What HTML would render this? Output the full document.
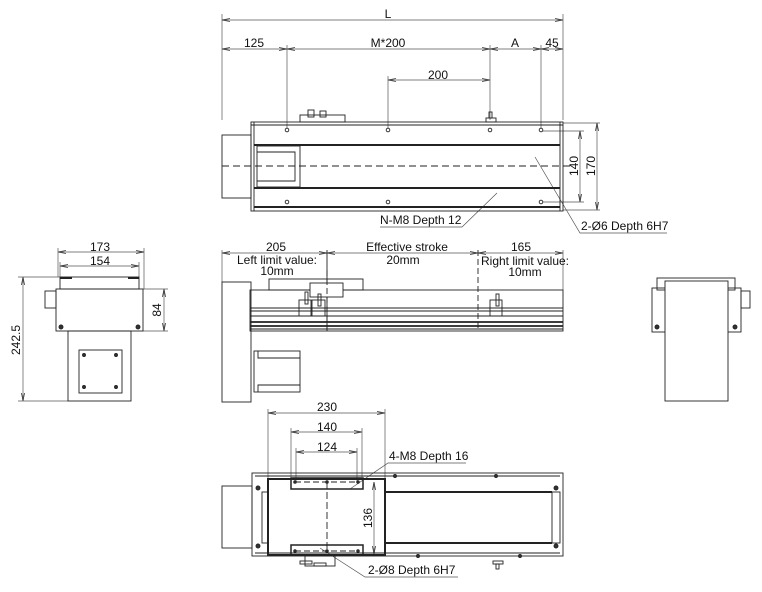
<!DOCTYPE html>
<html><head><style>body{margin:0;background:#fff}svg{display:block}text{font-family:"Liberation Sans",sans-serif;font-size:12px;fill:#111}</style></head>
<body>
<svg width="762" height="592" viewBox="0 0 762 592" xmlns="http://www.w3.org/2000/svg">
<defs><marker id="a" markerWidth="8" markerHeight="6" refX="8" refY="3" orient="auto-start-reverse" markerUnits="userSpaceOnUse"><path d="M0,1.5 L8,3 L0,4.5" fill="none" stroke="#333" stroke-width="0.8"/></marker></defs>
<g stroke="#555" stroke-width="0.7" fill="none">
<!-- top dims -->
<line x1="222" y1="14" x2="222" y2="120"/><line x1="563" y1="14" x2="563" y2="120"/>
<line x1="222" y1="20" x2="563" y2="20" marker-start="url(#a)" marker-end="url(#a)"/>
<line x1="222" y1="49" x2="287" y2="49" marker-start="url(#a)" marker-end="url(#a)"/>
<line x1="287" y1="49" x2="490" y2="49" marker-start="url(#a)" marker-end="url(#a)"/>
<line x1="490" y1="49" x2="541" y2="49" marker-start="url(#a)" marker-end="url(#a)"/>
<line x1="541" y1="49" x2="563" y2="49" marker-start="url(#a)" marker-end="url(#a)"/>
<line x1="287" y1="45" x2="287" y2="128"/><line x1="490" y1="45" x2="490" y2="120"/><line x1="541" y1="45" x2="541" y2="128"/>
<line x1="388" y1="76" x2="388" y2="128"/>
<line x1="388" y1="80" x2="490" y2="80" marker-start="url(#a)" marker-end="url(#a)"/>
<line x1="541" y1="131" x2="584" y2="131"/><line x1="541" y1="202" x2="584" y2="202"/>
<line x1="563" y1="123" x2="600" y2="123"/><line x1="563" y1="210" x2="600" y2="210"/>
<line x1="580" y1="131" x2="580" y2="202" marker-start="url(#a)" marker-end="url(#a)"/>
<line x1="597" y1="123" x2="597" y2="210" marker-start="url(#a)" marker-end="url(#a)"/>
<polyline points="380,227 462,227 497,193"/>
<polyline points="667,233 580,233 535,157"/>
</g>
<g stroke="#222" fill="none" stroke-width="0.9">
<!-- top view -->
<rect x="251" y="122" width="312" height="89"/>
<line x1="251" y1="125" x2="563" y2="125"/><line x1="560" y1="122" x2="560" y2="211"/><line x1="254" y1="122" x2="254" y2="211"/>
<line x1="254" y1="145" x2="560" y2="145" stroke-width="2"/><line x1="254" y1="188" x2="560" y2="188" stroke-width="2"/><line x1="254" y1="207" x2="560" y2="207" stroke-width="2"/>
<rect x="222" y="135" width="29" height="63"/>
<rect x="257" y="146" width="43" height="41"/>
<polyline points="257,152 295,152 295,181 257,181"/>
<rect x="300" y="115" width="45" height="7"/><rect x="308" y="110" width="6" height="7"/><rect x="320" y="111" width="6" height="6"/>
<rect x="486" y="118" width="10" height="4"/><rect x="489" y="112" width="3" height="6"/>
<line x1="222" y1="166" x2="570" y2="166" stroke-dasharray="7,4"/>
<g fill="#fff"><circle cx="287" cy="130" r="1.8"/><circle cx="388" cy="130" r="1.8"/><circle cx="490" cy="130" r="1.8"/><circle cx="541" cy="130" r="1.8"/><circle cx="287" cy="202" r="1.8"/><circle cx="388" cy="202" r="1.8"/><circle cx="541" cy="202" r="1.8"/></g>
<!-- front view -->
<g stroke="#555" stroke-width="0.7">
<line x1="222" y1="253" x2="327" y2="253" marker-start="url(#a)" marker-end="url(#a)"/>
<line x1="327" y1="253" x2="478" y2="253" marker-start="url(#a)" marker-end="url(#a)"/>
<line x1="478" y1="253" x2="563" y2="253" marker-start="url(#a)" marker-end="url(#a)"/>
<line x1="222" y1="250" x2="222" y2="282"/><line x1="563" y1="250" x2="563" y2="290"/>
</g>
<line x1="327" y1="250" x2="327" y2="331"/><line x1="478" y1="250" x2="478" y2="331" stroke-dasharray="6,3"/>
<rect x="250" y="290" width="313" height="41"/>
<line x1="250" y1="308" x2="563" y2="308"/><line x1="250" y1="311" x2="563" y2="311"/><line x1="250" y1="316" x2="563" y2="316"/>
<line x1="250" y1="322" x2="563" y2="322" stroke-width="1.8"/><line x1="250" y1="326" x2="563" y2="326" stroke-width="1.8"/><line x1="250" y1="329" x2="563" y2="329"/>
<rect x="222" y="282" width="29" height="120"/>
<rect x="254" y="351" width="46" height="41"/><polyline points="300,358 258,358 258,351"/><polyline points="300,385 258,385 258,392"/>
<rect x="269" y="279" width="94" height="11"/><rect x="310" y="283" width="33" height="14" fill="#fff"/>
<line x1="327" y1="270" x2="327" y2="331" stroke-dasharray="6,3"/>
<rect x="299" y="300" width="12" height="16"/><rect x="312" y="300" width="13" height="16"/><rect x="490" y="300" width="12" height="16"/>
<rect x="305" y="292" width="3" height="12"/><rect x="318" y="294" width="3" height="12"/><rect x="496" y="294" width="3" height="12"/>
<!-- left view -->
<g stroke="#555" stroke-width="0.7">
<line x1="58" y1="252" x2="144" y2="252" marker-start="url(#a)" marker-end="url(#a)"/>
<line x1="60" y1="266" x2="139" y2="266" marker-start="url(#a)" marker-end="url(#a)"/>
<line x1="58" y1="248" x2="58" y2="277"/><line x1="144" y1="248" x2="144" y2="289"/><line x1="60" y1="262" x2="60" y2="277"/><line x1="139" y1="262" x2="139" y2="277"/>
<line x1="23" y1="277" x2="23" y2="401" marker-start="url(#a)" marker-end="url(#a)"/>
<line x1="18" y1="277" x2="60" y2="277"/><line x1="18" y1="401" x2="68" y2="401"/>
<line x1="164" y1="289" x2="164" y2="331" marker-start="url(#a)" marker-end="url(#a)"/>
<line x1="143" y1="289" x2="168" y2="289"/><line x1="143" y1="331" x2="168" y2="331"/>
</g>
<rect x="60" y="277" width="79" height="12"/><line x1="60" y1="278" x2="72" y2="278" stroke-width="2"/><line x1="128" y1="278" x2="139" y2="278" stroke-width="2"/>
<rect x="56" y="289" width="87" height="42"/>
<rect x="45" y="291" width="11" height="17"/>
<rect x="68" y="331" width="63" height="70"/><rect x="79" y="350" width="43" height="43"/>
<g fill="#333"><circle cx="61" cy="327" r="2"/><circle cx="138" cy="327" r="2"/><circle cx="84" cy="355" r="1.5"/><circle cx="116" cy="355" r="1.5"/><circle cx="84" cy="387" r="1.5"/><circle cx="116" cy="387" r="1.5"/></g>
<!-- right view -->
<rect x="657" y="278" width="78" height="12"/>
<rect x="652" y="288" width="89" height="44"/>
<rect x="665" y="281" width="63" height="120" fill="#fff"/>
<rect x="741" y="291" width="9" height="17"/>
<g fill="#333"><circle cx="657" cy="327" r="2"/><circle cx="735" cy="327" r="2"/></g>
<!-- bottom view -->
<g stroke="#555" stroke-width="0.7">
<line x1="268" y1="413" x2="385" y2="413" marker-start="url(#a)" marker-end="url(#a)"/>
<line x1="291" y1="432" x2="362" y2="432" marker-start="url(#a)" marker-end="url(#a)"/>
<line x1="296" y1="452" x2="357" y2="452" marker-start="url(#a)" marker-end="url(#a)"/>
<line x1="268" y1="409" x2="268" y2="479"/><line x1="385" y1="409" x2="385" y2="479"/>
<line x1="291" y1="428" x2="291" y2="477"/><line x1="362" y1="428" x2="362" y2="477"/>
<line x1="296" y1="448" x2="296" y2="481"/><line x1="357" y1="448" x2="357" y2="481"/>
<line x1="374" y1="482" x2="374" y2="554" marker-start="url(#a)" marker-end="url(#a)"/>
<polyline points="466,463 388,463 350,489"/>
<polyline points="458,577 365,577 320,548"/>
</g>
<rect x="252" y="473" width="311" height="83"/><line x1="255" y1="476" x2="560" y2="476"/><line x1="255" y1="553" x2="560" y2="553"/>
<rect x="222" y="486" width="30" height="62"/>
<rect x="262" y="492" width="6" height="51"/><rect x="552" y="492" width="8" height="51"/>
<line x1="385" y1="492" x2="552" y2="492" stroke-width="2"/><line x1="385" y1="543" x2="552" y2="543" stroke-width="2"/>
<rect x="268" y="479" width="117" height="76" stroke-width="2"/>
<rect x="291" y="478" width="72" height="11" stroke-width="1.5"/><rect x="291" y="545" width="72" height="10" stroke-width="1.5"/>
<line x1="295" y1="482" x2="358" y2="482" stroke-dasharray="6,3"/><line x1="295" y1="551" x2="358" y2="551" stroke-dasharray="6,3"/>
<line x1="327" y1="482" x2="327" y2="551" stroke-dasharray="7,3"/>
<rect x="305" y="556" width="30" height="10"/><rect x="300" y="561" width="12" height="3"/><rect x="314" y="563" width="12" height="3"/><rect x="493" y="561" width="10" height="3"/><rect x="496" y="564" width="3" height="5"/>
<g fill="#333"><circle cx="258" cy="488" r="2"/><circle cx="258" cy="546" r="2"/><circle cx="556" cy="488" r="2"/><circle cx="556" cy="546" r="2"/><circle cx="395" cy="476" r="1.5"/><circle cx="496" cy="476" r="1.5"/><circle cx="418" cy="556" r="1.5"/><circle cx="520" cy="556" r="1.5"/><circle cx="295" cy="482" r="1.3"/><circle cx="327" cy="482" r="1.3"/><circle cx="358" cy="482" r="1.3"/><circle cx="295" cy="551" r="1.3"/><circle cx="327" cy="551" r="1.3"/><circle cx="358" cy="551" r="1.3"/></g>
</g>
<text x="388" y="18" text-anchor="middle">L</text>
<text x="254" y="47" text-anchor="middle">125</text>
<text x="388" y="47" text-anchor="middle">M*200</text>
<text x="515" y="47" text-anchor="middle">A</text>
<text x="552" y="47" text-anchor="middle">45</text>
<text x="438" y="79" text-anchor="middle">200</text>
<text transform="translate(578,166) rotate(-90)" text-anchor="middle">140</text>
<text transform="translate(595,166) rotate(-90)" text-anchor="middle">170</text>
<text x="380" y="224">N-M8 Depth 12</text>
<text x="581" y="230">2-Ø6 Depth 6H7</text>
<text x="276" y="251" text-anchor="middle">205</text>
<text x="407" y="251" text-anchor="middle">Effective stroke</text>
<text x="521" y="251" text-anchor="middle">165</text>
<text x="277" y="264" text-anchor="middle">Left limit value:</text>
<text x="277" y="275" text-anchor="middle">10mm</text>
<text x="403" y="264" text-anchor="middle">20mm</text>
<text x="525" y="265" text-anchor="middle">Right limit value:</text>
<text x="525" y="276" text-anchor="middle">10mm</text>
<text x="100" y="251" text-anchor="middle">173</text>
<text x="100" y="265" text-anchor="middle">154</text>
<text transform="translate(20,340) rotate(-90)" text-anchor="middle">242.5</text>
<text transform="translate(161,310) rotate(-90)" text-anchor="middle">84</text>
<text x="327" y="411" text-anchor="middle">230</text>
<text x="327" y="431" text-anchor="middle">140</text>
<text x="327" y="451" text-anchor="middle">124</text>
<text x="389" y="460">4-M8 Depth 16</text>
<text transform="translate(372,518) rotate(-90)" text-anchor="middle">136</text>
<text x="368" y="574">2-Ø8 Depth 6H7</text>
</svg>
</body></html>
